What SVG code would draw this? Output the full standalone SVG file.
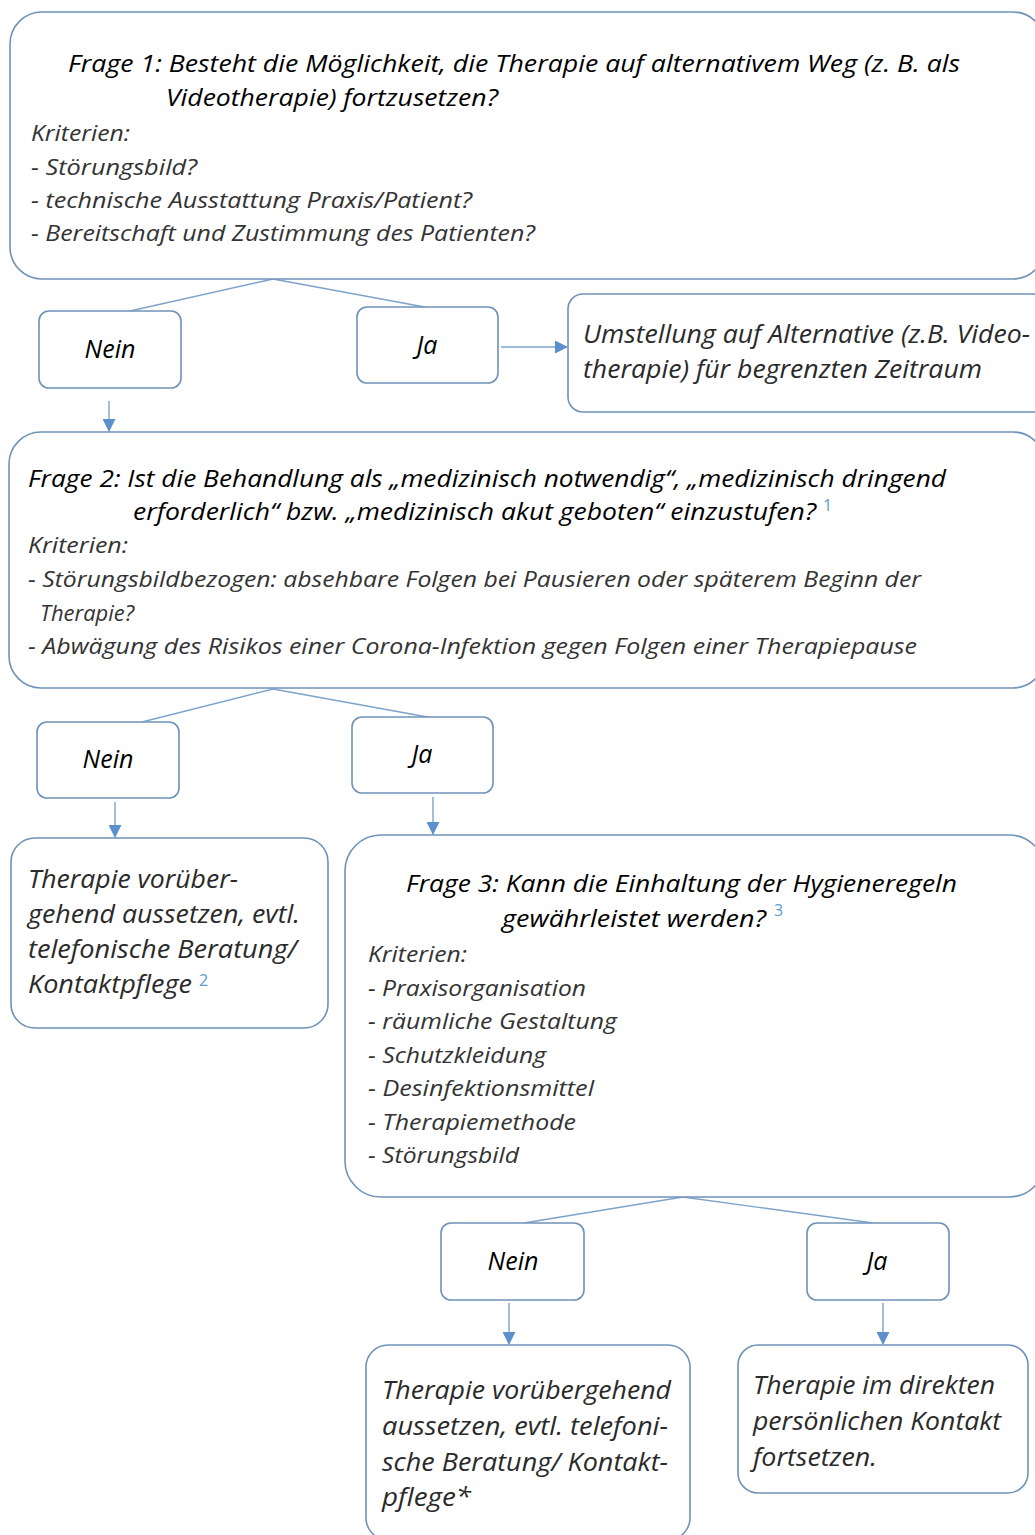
<svg xmlns="http://www.w3.org/2000/svg" width="1035" height="1535" viewBox="0 0 1035 1535">
<style>
.box{fill:#ffffff;stroke:#6f92b8;stroke-width:1.6}
.con{stroke:#7ea3c9;stroke-width:1.4;fill:none}
.arr{stroke:#7ea3c9;stroke-width:1.4;fill:none;marker-end:url(#ah)}
text{font-family:"Open Sans","Liberation Sans",sans-serif;font-style:italic;fill:#1e1e1e}
.t{font-size:24px;fill:#000}
.c{font-size:22px;fill:#333}
.b{font-size:25px;fill:#2a2a2a}
.yn{font-size:25px;text-anchor:middle;fill:#000}
.sup{font-size:16px;font-style:normal;fill:#5b9bd5}
</style>
<defs>
<marker id="ah" markerUnits="userSpaceOnUse" markerWidth="13" markerHeight="13" refX="12" refY="6.5" orient="auto">
<path d="M0,0 L13,6.5 L0,13 z" fill="#5b8fcd"/>
</marker>
</defs>
<rect width="1035" height="1535" fill="#ffffff"/>

<g id="connectors">
<line class="con" x1="273" y1="279" x2="130" y2="311"/>
<line class="con" x1="273" y1="279" x2="430" y2="308"/>
<line class="arr" x1="501" y1="347" x2="567" y2="347"/>
<line class="arr" x1="109" y1="401" x2="109" y2="431"/>
<line class="con" x1="273" y1="689" x2="142" y2="722"/>
<line class="con" x1="273" y1="689" x2="433" y2="718"/>
<line class="arr" x1="115" y1="802" x2="115" y2="837"/>
<line class="arr" x1="433" y1="797" x2="433" y2="834"/>
<line class="con" x1="683" y1="1197" x2="524" y2="1223"/>
<line class="con" x1="683" y1="1197" x2="873" y2="1223"/>
<line class="arr" x1="509" y1="1303" x2="509" y2="1344"/>
<line class="arr" x1="883" y1="1303" x2="883" y2="1344"/>
</g>

<g id="frage1">
<rect class="box" x="10" y="12" width="1035" height="267" rx="32"/>
<text class="t" x="68" y="72" textLength="892" lengthAdjust="spacingAndGlyphs">Frage 1: Besteht die Möglichkeit, die Therapie auf alternativem Weg (z. B. als</text>
<text class="t" x="166" y="106" textLength="332" lengthAdjust="spacingAndGlyphs">Videotherapie) fortzusetzen?</text>
<text class="c" x="31" y="141" textLength="99" lengthAdjust="spacingAndGlyphs">Kriterien:</text>
<text class="c" x="31" y="175" textLength="166" lengthAdjust="spacingAndGlyphs">- Störungsbild?</text>
<text class="c" x="31" y="208" textLength="441" lengthAdjust="spacingAndGlyphs">- technische Ausstattung Praxis/Patient?</text>
<text class="c" x="31" y="241" textLength="504" lengthAdjust="spacingAndGlyphs">- Bereitschaft und Zustimmung des Patienten?</text>
</g>

<g id="nein1">
<rect class="box" x="39" y="311" width="142" height="77" rx="10"/>
<text class="yn" x="110" y="358">Nein</text>
</g>

<g id="ja1">
<rect class="box" x="357" y="307" width="141" height="76" rx="10"/>
<text class="yn" x="427" y="354">Ja</text>
</g>

<g id="umstellung">
<rect class="box" x="568" y="294" width="480" height="118" rx="15"/>
<text class="b" x="583" y="343" textLength="447" lengthAdjust="spacingAndGlyphs">Umstellung auf Alternative (z.B. Video-</text>
<text class="b" x="583" y="378" textLength="399" lengthAdjust="spacingAndGlyphs">therapie) für begrenzten Zeitraum</text>
</g>

<g id="frage2">
<rect class="box" x="9" y="432" width="1036" height="256" rx="32"/>
<text class="t" x="28" y="487" textLength="918" lengthAdjust="spacingAndGlyphs">Frage 2: Ist die Behandlung als „medizinisch notwendig“, „medizinisch dringend</text>
<text class="t" x="133" y="520" textLength="683" lengthAdjust="spacingAndGlyphs">erforderlich“ bzw. „medizinisch akut geboten“ einzustufen?</text>
<text class="sup" x="823" y="511">1</text>
<text class="c" x="28" y="553" textLength="100" lengthAdjust="spacingAndGlyphs">Kriterien:</text>
<text class="c" x="28" y="587" textLength="893" lengthAdjust="spacingAndGlyphs">- Störungsbildbezogen: absehbare Folgen bei Pausieren oder späterem Beginn der</text>
<text class="c" x="40" y="621" textLength="94" lengthAdjust="spacingAndGlyphs">Therapie?</text>
<text class="c" x="28" y="654" textLength="889" lengthAdjust="spacingAndGlyphs">- Abwägung des Risikos einer Corona-Infektion gegen Folgen einer Therapiepause</text>
</g>

<g id="nein2">
<rect class="box" x="37" y="722" width="142" height="76" rx="10"/>
<text class="yn" x="108" y="768">Nein</text>
</g>

<g id="ja2">
<rect class="box" x="352" y="717" width="141" height="76" rx="10"/>
<text class="yn" x="422" y="763">Ja</text>
</g>

<g id="aussetzen1">
<rect class="box" x="11" y="838" width="317" height="190" rx="24"/>
<text class="b" x="28" y="888" textLength="210" lengthAdjust="spacingAndGlyphs">Therapie vorüber-</text>
<text class="b" x="28" y="923" textLength="272" lengthAdjust="spacingAndGlyphs">gehend aussetzen, evtl.</text>
<text class="b" x="28" y="958" textLength="269" lengthAdjust="spacingAndGlyphs">telefonische Beratung/</text>
<text class="b" x="28" y="993" textLength="164" lengthAdjust="spacingAndGlyphs">Kontaktpflege</text>
<text class="sup" x="199" y="986">2</text>
</g>

<g id="frage3">
<rect class="box" x="345" y="835" width="700" height="362" rx="36"/>
<text class="t" x="406" y="892" textLength="551" lengthAdjust="spacingAndGlyphs">Frage 3: Kann die Einhaltung der Hygieneregeln</text>
<text class="t" x="502" y="927" textLength="264" lengthAdjust="spacingAndGlyphs">gewährleistet werden?</text>
<text class="sup" x="774" y="916">3</text>
<text class="c" x="368" y="962" textLength="99" lengthAdjust="spacingAndGlyphs">Kriterien:</text>
<text class="c" x="368" y="996" textLength="218" lengthAdjust="spacingAndGlyphs">- Praxisorganisation</text>
<text class="c" x="368" y="1029" textLength="249" lengthAdjust="spacingAndGlyphs">- räumliche Gestaltung</text>
<text class="c" x="368" y="1063" textLength="178" lengthAdjust="spacingAndGlyphs">- Schutzkleidung</text>
<text class="c" x="368" y="1096" textLength="226" lengthAdjust="spacingAndGlyphs">- Desinfektionsmittel</text>
<text class="c" x="368" y="1130" textLength="208" lengthAdjust="spacingAndGlyphs">- Therapiemethode</text>
<text class="c" x="368" y="1163" textLength="151" lengthAdjust="spacingAndGlyphs">- Störungsbild</text>
</g>

<g id="nein3">
<rect class="box" x="441" y="1223" width="143" height="77" rx="10"/>
<text class="yn" x="513" y="1270">Nein</text>
</g>

<g id="ja3">
<rect class="box" x="807" y="1223" width="142" height="77" rx="10"/>
<text class="yn" x="877" y="1270">Ja</text>
</g>

<g id="aussetzen2">
<rect class="box" x="366" y="1345" width="324" height="195" rx="22"/>
<text class="b" x="382" y="1399" textLength="289" lengthAdjust="spacingAndGlyphs">Therapie vorübergehend</text>
<text class="b" x="382" y="1435" textLength="286" lengthAdjust="spacingAndGlyphs">aussetzen, evtl. telefoni-</text>
<text class="b" x="382" y="1471" textLength="286" lengthAdjust="spacingAndGlyphs">sche Beratung/ Kontakt-</text>
<text class="b" x="382" y="1506" textLength="89" lengthAdjust="spacingAndGlyphs">pflege*</text>
</g>

<g id="fortsetzen">
<rect class="box" x="738" y="1345" width="290" height="148" rx="20"/>
<text class="b" x="753" y="1394" textLength="242" lengthAdjust="spacingAndGlyphs">Therapie im direkten</text>
<text class="b" x="753" y="1430" textLength="248" lengthAdjust="spacingAndGlyphs">persönlichen Kontakt</text>
<text class="b" x="753" y="1466" textLength="124" lengthAdjust="spacingAndGlyphs">fortsetzen.</text>
</g>
</svg>
